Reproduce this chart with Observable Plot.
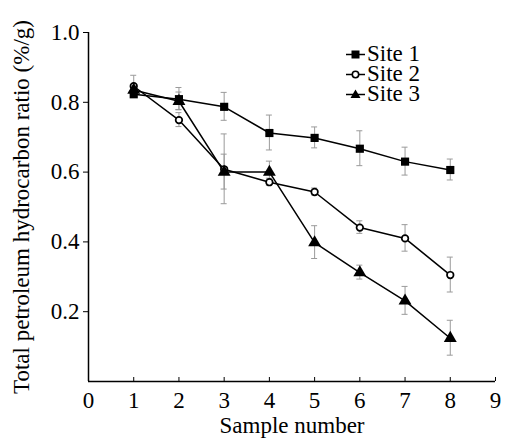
<!DOCTYPE html>
<html>
<head>
<meta charset="utf-8">
<script src="https://cdn.jsdelivr.net/npm/d3@7"></script>
<script src="https://cdn.jsdelivr.net/npm/@observablehq/plot@0.6"></script>
<style>
  html, body { margin: 0; padding: 0; background: #fff; }
  #wrap { position: relative; width: 507px; height: 438px; }
  #wrap svg.chart text { font-family: "Liberation Serif", "Times New Roman", serif; font-size: 23px; }
  #legend { position: absolute; left: 346px; top: 44px; font-family: "Liberation Serif", "Times New Roman", serif; font-size: 23px; line-height: 20px; color: #000; }
  #legend div { display: flex; align-items: center; height: 20px; }
  #legend svg { margin-right: 2px; }
</style>
</head>
<body>
<div id="wrap"><div id="legend"></div></div>
<script>
const samples = [1, 2, 3, 4, 5, 6, 7, 8];
const sites = ["Site 1", "Site 2", "Site 3"];
const site1 = [0.823, 0.809, 0.787, 0.712, 0.698, 0.667, 0.630, 0.606];
const site1Err = [0.010, 0.032, 0.040, 0.050, 0.030, 0.050, 0.040, 0.030];
const site2 = [0.846, 0.749, 0.608, 0.571, 0.543, 0.441, 0.410, 0.305];
const site2Err = [0.030, 0.020, 0.100, 0.010, 0.010, 0.018, 0.038, 0.050];
const site3 = [0.835, 0.803, 0.600, 0.600, 0.398, 0.312, 0.231, 0.124];
const site3Err = [0.010, 0.025, 0.050, 0.030, 0.047, 0.020, 0.040, 0.050];
const xTicks = [0, 1, 2, 3, 4, 5, 6, 7, 8, 9];
const yTicks = [0.2, 0.4, 0.6, 0.8, 1.0];
const symbols = ["square", "circle", "triangle"];

const series = [site1, site2, site3];
const errs = [site1Err, site2Err, site3Err];
const rows = [];
sites.forEach((s, i) => samples.forEach((x, j) => rows.push({site: s, x, y: series[i][j], e: errs[i][j], sym: symbols[i]})));

const chart = Plot.plot({
  width: 507, height: 438,
  marginLeft: 88, marginRight: 12, marginTop: 32, marginBottom: 57,
  className: "chart",
  style: {color: "#000", background: "#fff", overflow: "visible"},
  x: {type: "linear", domain: [0, 9]},
  y: {type: "linear", domain: [0, 1.0]},
  marks: [
    Plot.ruleX([0], {stroke: "#000", strokeWidth: 1.5}),
    Plot.ruleY([0], {stroke: "#000", strokeWidth: 1.5}),
    Plot.axisX({ticks: xTicks, tickSize: -4, tickPadding: 14, tickFormat: d3.format("d"),
      label: "Sample number", labelAnchor: "center", labelArrow: "none", labelOffset: 51}),
    Plot.axisY({ticks: yTicks, tickSize: 5, tickPadding: 4, tickFormat: d3.format(".1f"),
      label: "Total petroleum hydrocarbon ratio (%/g)", labelAnchor: "center", labelArrow: "none", labelOffset: 76}),
    Plot.ruleX(rows, {x: "x", y1: d => d.y - d.e, y2: d => d.y + d.e, stroke: "#9a9a9a", strokeWidth: 1}),
    Plot.line(rows, {x: "x", y: "y", z: "site", stroke: "#000", strokeWidth: 1.5}),
    Plot.dot(rows.filter(d => d.sym === "square"), {x: "x", y: "y", symbol: "square", r: 4.6, fill: "#000", stroke: "none"}),
    Plot.dot(rows.filter(d => d.sym === "circle"), {x: "x", y: "y", symbol: "circle", r: 3.3, fill: "#fff", stroke: "#000", strokeWidth: 1.7}),
    Plot.dot(rows.filter(d => d.sym === "triangle"), {x: "x", y: "y", symbol: "triangle", r: 4.8, fill: "#000", stroke: "none"})
  ]
});

// error bar caps, positioned through the plot's scales
const xs = chart.scale("x"), ys = chart.scale("y");
const svg = d3.select(chart);
const capG = svg.insert("g", "g[aria-label=line]").attr("stroke", "#9a9a9a").attr("stroke-width", 1);
rows.forEach(d => {
  [d.y - d.e, d.y + d.e].forEach(v => {
    const px = xs.apply(d.x), py = ys.apply(v);
    capG.append("line").attr("x1", px - 3).attr("x2", px + 3).attr("y1", py).attr("y2", py);
  });
});
document.getElementById("wrap").prepend(chart);

// legend
const leg = document.getElementById("legend");
sites.forEach((s, i) => {
  const row = document.createElement("div");
  let sym;
  if (symbols[i] === "square") sym = '<rect x="5.5" y="5.5" width="8" height="8" fill="#000"/>';
  else if (symbols[i] === "circle") sym = '<circle cx="9.5" cy="9.5" r="3.2" fill="#fff" stroke="#000" stroke-width="1.6"/>';
  else sym = '<path d="M9.5 4.5 L14.5 13 L4.5 13 Z" fill="#000"/>';
  row.innerHTML = `<svg width="19" height="19"><line x1="0" x2="19" y1="9.5" y2="9.5" stroke="#000" stroke-width="1.5"/>${sym}</svg><span>${s}</span>`;
  leg.appendChild(row);
});
</script>
</body>
</html>
